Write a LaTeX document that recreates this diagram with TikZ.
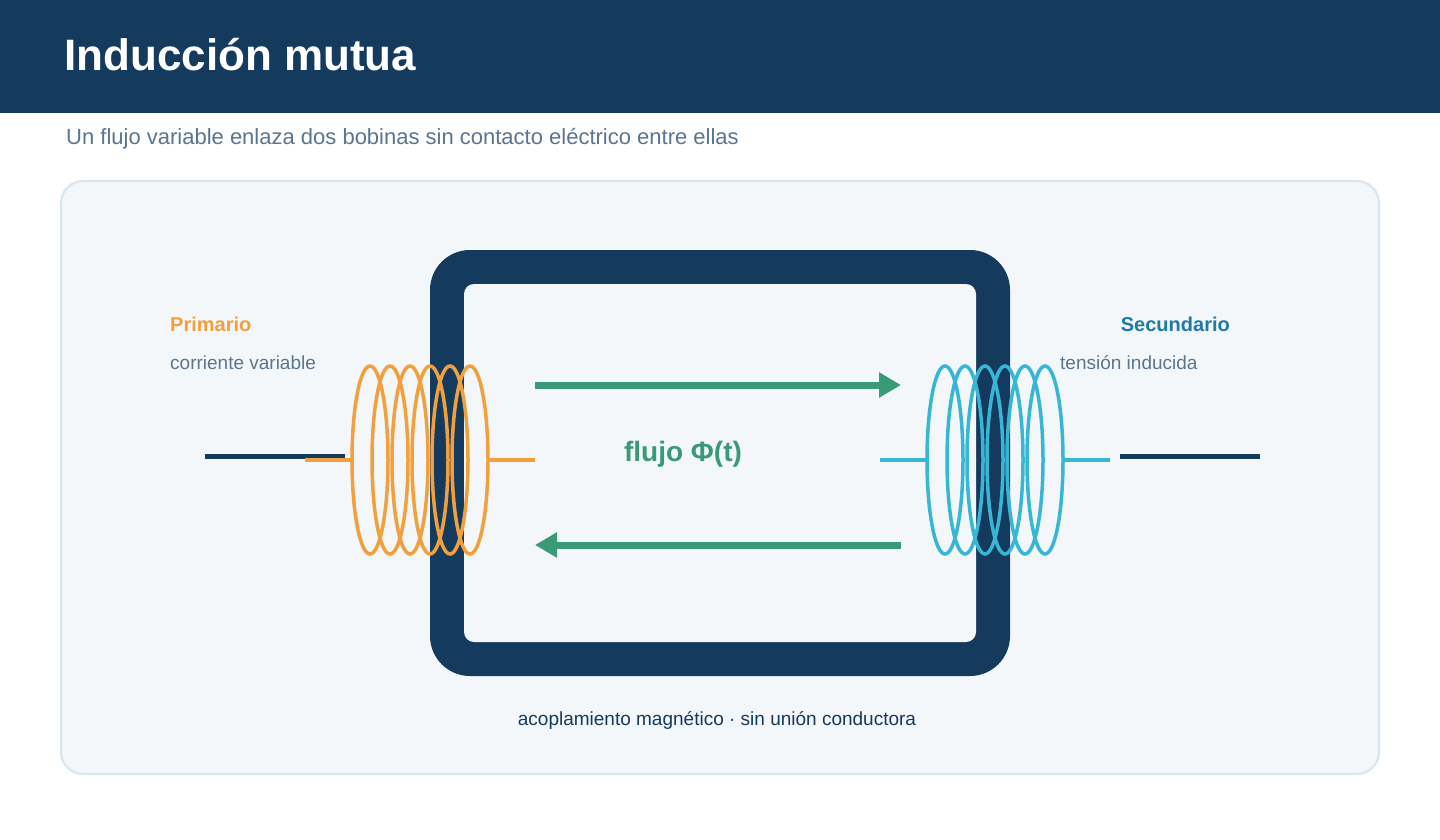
\documentclass[tikz,border=0pt]{standalone}
\usepackage{fontspec}
\setmainfont{Liberation Sans}
\usetikzlibrary{arrows.meta}
\definecolor{navy}{HTML}{143A5E}
\definecolor{org}{HTML}{F2A03D}
\definecolor{cyn}{HTML}{38B6D6}
\definecolor{grn}{HTML}{3A9A78}
\definecolor{gry}{HTML}{5A7590}
\definecolor{sec}{HTML}{1F7AA8}
\definecolor{pan}{HTML}{F3F7FA}
\definecolor{panb}{HTML}{D6E6EE}
\begin{document}
\begin{tikzpicture}[x=1pt,y=-1pt,
  coil/.style={line width=3.5pt},
  lead/.style={line width=4pt},
  wire/.style={navy,line width=5pt},
  flux/.style={grn,line width=7pt,-{Triangle[length=22pt,width=24pt]}},
  txt/.style={anchor=base west,inner sep=0pt}]
\useasboundingbox (0,0) rectangle (1440,840);
\fill[white] (0,0) rectangle (1440,840);
\fill[navy] (0,0) rectangle (1440,113);
\node[txt,white,font=\fontsize{44}{50}\selectfont\bfseries] (title) at (64,71) {Inducción mutua};
\node[txt,gry,font=\fontsize{22}{26}\selectfont] (sub) at (66,144) {Un flujo variable enlaza dos bobinas sin contacto eléctrico entre ellas};
\draw[panb,fill=pan,line width=2pt,rounded corners=22pt] (61,181) rectangle (1379,774);
% core
\fill[navy,rounded corners=40pt] (430,250) rectangle (1010,676);
\fill[pan,rounded corners=10pt] (464,284) rectangle (976,642);
% wires
\draw[wire] (205,456) -- (345,456);
\draw[wire] (1120,456) -- (1260,456);
% left coil
\draw[org,lead] (305,460) -- (352,460);
\draw[org,lead] (488,460) -- (535,460);
\foreach \x in {370,390,410,430,450,470} \draw[org,coil] (\x,460) ellipse (18 and 94);
% right coil
\draw[cyn,lead] (880,460) -- (927,460);
\draw[cyn,lead] (1063,460) -- (1110,460);
\foreach \x in {945,965,985,1005,1025,1045} \draw[cyn,coil] (\x,460) ellipse (18 and 94);
% flux arrows
\coordinate (a1) at (535,385); \coordinate (a2) at (901,385);
\coordinate (b1) at (901,545); \coordinate (b2) at (535,545);
\draw[flux] (a1) -- (a2);
\draw[flux] (b1) -- (b2);
\node[grn,font=\fontsize{28}{32}\selectfont\bfseries] (phi) at (683,454) {flujo Φ(t)};
% labels
\node[txt,org,font=\fontsize{20}{24}\selectfont\bfseries] (p) at (170,331) {Primario};
\node[txt,gry,font=\fontsize{19}{23}\selectfont] (pc) at (170,369) {corriente variable};
\node[anchor=base east,inner sep=0pt,sec,font=\fontsize{20}{24}\selectfont\bfseries] (s) at (1230,331) {Secundario};
\node[txt,gry,font=\fontsize{19}{23}\selectfont] (sc) at (1060,369) {tensión inducida};
\node[anchor=base,inner sep=0pt,navy,font=\fontsize{19}{23}\selectfont] (bt) at (717,725) {acoplamiento magnético · sin unión conductora};
\end{tikzpicture}
\end{document}
